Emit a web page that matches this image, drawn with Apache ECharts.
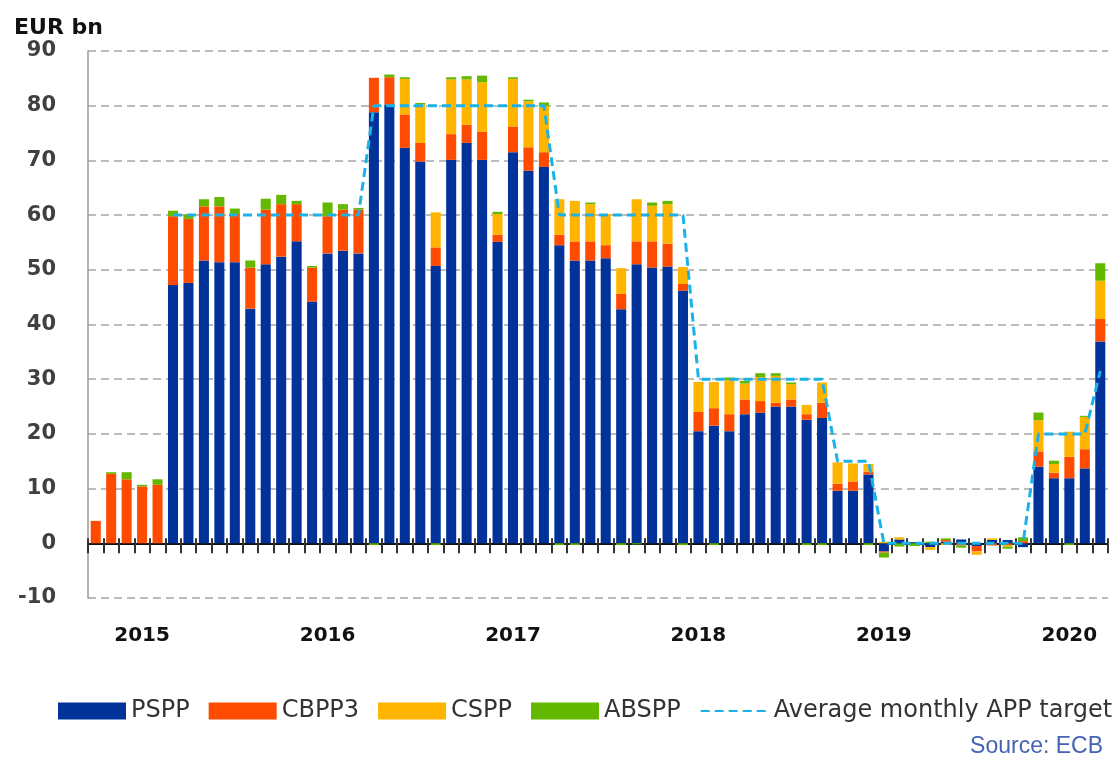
<!DOCTYPE html>
<html>
<head>
<meta charset="utf-8">
<script src="https://cdn.jsdelivr.net/npm/echarts@6/dist/echarts.min.js"></script>
<style>
  html, body { margin: 0; padding: 0; background: #fff; }
  #chart { width: 1120px; height: 760px; }
</style>
</head>
<body>
<div id="chart"></div>
<script>
// months, Oct 2014 .. Mar 2020
const months = [
  '2014-10', '2014-11', '2014-12',
  '2015-01', '2015-02', '2015-03', '2015-04', '2015-05', '2015-06', '2015-07', '2015-08', '2015-09', '2015-10', '2015-11', '2015-12',
  '2016-01', '2016-02', '2016-03', '2016-04', '2016-05', '2016-06', '2016-07', '2016-08', '2016-09', '2016-10', '2016-11', '2016-12',
  '2017-01', '2017-02', '2017-03', '2017-04', '2017-05', '2017-06', '2017-07', '2017-08', '2017-09', '2017-10', '2017-11', '2017-12',
  '2018-01', '2018-02', '2018-03', '2018-04', '2018-05', '2018-06', '2018-07', '2018-08', '2018-09', '2018-10', '2018-11', '2018-12',
  '2019-01', '2019-02', '2019-03', '2019-04', '2019-05', '2019-06', '2019-07', '2019-08', '2019-09', '2019-10', '2019-11', '2019-12',
  '2020-01', '2020-02', '2020-03'
]

const pspp = [
  0, 0, 0,
  0, 0, 47.2, 47.6, 51.7, 51.4, 51.4, 42.9, 51.0, 52.4, 55.2, 44.2,
  53.0, 53.5, 53.0, 78.8, 80.2, 72.3, 69.8, 50.7, 70.1, 73.2, 70.1, 55.1,
  71.5, 68.1, 68.8, 54.5, 51.7, 51.7, 52.1, 42.8, 51.0, 50.4, 50.6, 46.2,
  20.5, 21.5, 20.5, 23.6, 23.9, 25.0, 25.0, 22.6, 22.9, 9.6, 9.6, 12.6,
  -1.5, 0.7, 0.2, -0.7, 0.3, 0.7, -0.5, 0.6, 0.6, -0.7, 14.0, 11.9,
  11.9, 13.7, 36.9
]
const cbpp3 = [
  4.1, 12.7, 11.7,
  10.4, 10.7, 12.6, 11.7, 9.9, 10.2, 8.8, 7.5, 10.0, 9.6, 6.8, 6.2,
  6.8, 7.5, 8.0, 6.3, 5.0, 6.1, 3.4, 3.4, 4.7, 3.3, 5.1, 1.3,
  4.7, 4.3, 2.7, 1.9, 3.5, 3.5, 2.4, 2.8, 4.2, 4.8, 4.2, 1.2,
  3.5, 3.2, 3.1, 2.7, 2.1, 0.7, 1.3, 1.0, 2.8, 1.3, 1.7, 0.5,
  -0.2, 0, 0, 0, 0.3, -0.4, -1.0, -0.4, -0.3, 0.4, 2.8, 1.0,
  3.9, 3.5, 4.1
]
const cspp = [
  0, 0, 0,
  0, 0, 0, 0, 0, 0, 0, 0, 0, 0, 0, 0,
  0, 0, 0, 0, 0, 6.5, 7.0, 6.4, 10.0, 8.3, 9.1, 3.8,
  8.7, 8.4, 8.4, 6.5, 7.4, 6.8, 5.7, 4.7, 7.7, 6.5, 7.2, 3.1,
  5.5, 4.8, 6.2, 2.9, 4.4, 4.9, 2.8, 1.7, 3.7, 3.9, 3.3, 1.4,
  0.3, 0.4, 0, -0.5, -0.3, 0, -0.6, 0.3, -0.3, 0, 5.7, 1.6,
  4.6, 5.9, 7.0
]
const abspp = [
  0, 0.3, 1.3,
  0.3, 1.0, 1.0, 0.8, 1.3, 1.7, 1.0, 1.3, 2.0, 1.7, 0.6, 0.3,
  2.5, 1.0, 0.3, -0.3, 0.5, 0.3, 0.3, -0.3, 0.4, 0.6, 1.2, 0.4,
  0.3, 0.3, 0.7, -0.3, -0.3, 0.3, 0, -0.3, -0.2, 0.6, 0.6, -0.3,
  0, -0.3, 0.5, 0.5, 0.7, 0.5, 0.3, -0.3, -0.3, 0, 0, -0.3,
  -0.9, -0.6, -0.5, 0.3, 0.3, -0.4, 0, 0, -0.4, 0.7, 1.4, 0.6,
  -0.3, 0.2, 3.2
]
// average monthly APP target
const target = [
  null, null, null,
  null, null, 60, 60, 60, 60, 60, 60, 60, 60, 60, 60,
  60, 60, 60, 80, 80, 80, 80, 80, 80, 80, 80, 80,
  80, 80, 80, 60, 60, 60, 60, 60, 60, 60, 60, 60,
  30, 30, 30, 30, 30, 30, 30, 30, 30, 15, 15, 15,
  0, 0, 0, 0, 0, 0, 0, 0, 0, 0, 20, 20,
  20, 20, 31.5
]

const yTicks = { min: -10, max: 90, step: 10 }

let myChart = echarts.init(document.getElementById('chart'))

const font = 'DejaVu Sans'

function barSeries(name, data, color) {
  return {
    name: name,
    type: 'bar',
    stack: 'app',
    xAxisIndex: 0,
    data: data,
    barCategoryGap: '35%',
    itemStyle: { color: color },
    emphasis: { disabled: true }
  }
}

let option = {
  animation: false,
  title: [
    {
      text: 'EUR bn',
      left: 9,
      top: 12,
      textStyle: { fontFamily: font, fontSize: 22, fontWeight: 'bold', color: '#111' }
    },
    {
      text: 'Source: ECB',
      right: 12,
      top: 730,
      textStyle: { fontFamily: 'Liberation Sans', fontSize: 23, fontWeight: 'normal', color: '#4463b4' }
    }
  ],
  legend: {
    left: 53,
    top: 694,
    itemWidth: 68,
    itemHeight: 17,
    itemGap: 19,
    textStyle: { fontFamily: font, fontSize: 24, color: '#333' },
    data: [
      { name: 'PSPP', icon: 'rect' },
      { name: 'CBPP3', icon: 'rect' },
      { name: 'CSPP', icon: 'rect' },
      { name: 'ABSPP', icon: 'rect' },
      { name: 'Average monthly APP target', itemStyle: { opacity: 0 } }
    ]
  },
  grid: { left: 88, right: 12, top: 51, bottom: 162 },
  xAxis: [
    {
      type: 'category',
      data: months,
      position: 'bottom',
      axisLine: { onZero: true, onZeroAxisIndex: 0, lineStyle: { color: '#111', width: 2 } },
      axisTick: { show: true, interval: 0, length: 10, lineStyle: { color: '#333', width: 2 } },
      axisLabel: { show: false },
      splitLine: { show: false }
    },
    {
      type: 'category',
      data: months,
      position: 'bottom',
      axisLine: { show: false, onZero: false },
      axisTick: { show: false },
      axisLabel: {
        interval: (idx, value) => value.endsWith('-01'),
        formatter: value => value.slice(0, 4),
        margin: 28,
        fontFamily: font,
        fontSize: 20,
        fontWeight: 'bold',
        color: '#111'
      }
    },
    {
      type: 'category',
      data: months,
      position: 'bottom',
      axisLine: { onZero: true, onZeroAxisIndex: 0, lineStyle: { color: '#111', width: 2 } },
      axisTick: { show: true, inside: true, interval: 0, length: 5, lineStyle: { color: '#333', width: 2 } },
      axisLabel: { show: false }
    }
  ],
  yAxis: {
    type: 'value',
    min: yTicks.min,
    max: yTicks.max,
    interval: yTicks.step,
    axisLine: { show: true, lineStyle: { color: '#9a9a9a', width: 1.5 } },
    axisTick: { show: false },
    axisLabel: { margin: 32, fontFamily: font, fontSize: 21, fontWeight: 'bold', color: '#404040' },
    splitLine: { lineStyle: { color: '#a6a6a6', width: 1.5, type: [8, 5] } }
  },
  series: [
    barSeries('PSPP', pspp, '#003299'),
    barSeries('CBPP3', cbpp3, '#ff4b00'),
    barSeries('CSPP', cspp, '#ffb400'),
    barSeries('ABSPP', abspp, '#65b800'),
    {
      name: 'Average monthly APP target',
      type: 'line',
      xAxisIndex: 0,
      data: target,
      symbol: 'none',
      z: 10,
      itemStyle: { color: '#1ab2e8' },
      lineStyle: { color: '#1ab2e8', width: 3, type: [9, 5] },
      emphasis: { disabled: true }
    }
  ]
}

myChart.setOption(option)
</script>
</body>
</html>
